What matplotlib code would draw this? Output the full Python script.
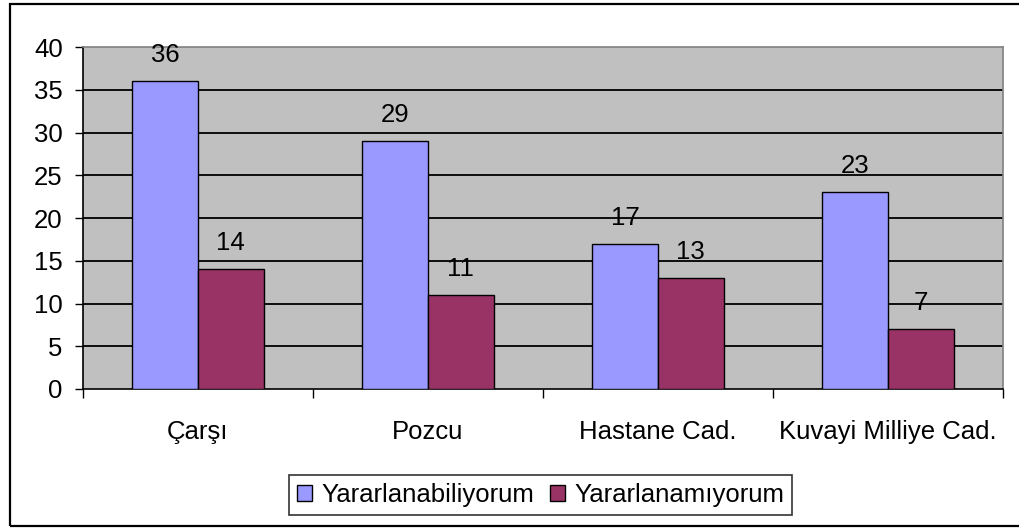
import matplotlib
matplotlib.use("Agg")
import matplotlib.pyplot as plt
from matplotlib.patches import Patch, Rectangle
import numpy as np

plt.rcParams['font.family'] = ['Liberation Sans', 'DejaVu Sans']

categories = ["Çarşı", "Pozcu", "Hastane Cad.", "Kuvayi Milliye Cad."]
series_names = ["Yararlanabiliyorum", "Yararlanamıyorum"]
yararlanabiliyorum = [36, 29, 17, 23]
yararlanamiyorum = [14, 11, 13, 7]
y_ticks = [0, 5, 10, 15, 20, 25, 30, 35, 40]

colors = ["#9999FF", "#993366"]
FS = 18.5

W, H = 1019, 528
fig = plt.figure(figsize=(W / 100, H / 100), dpi=100)
fig.patch.set_facecolor("white")

# outer chart border
fig.add_artist(Rectangle((10 / W, 2 / H), 1.2, 522 / H, transform=fig.transFigure,
                         fill=False, edgecolor="black", linewidth=1.6))

ax = fig.add_axes([83 / W, (H - 389) / H, 920 / W, 342 / H])
ax.set_facecolor("#C0C0C0")

n = len(categories)
x = np.arange(n)
bw = 1 / 3.5
for i, (vals, col) in enumerate(zip([yararlanabiliyorum, yararlanamiyorum], colors)):
    offs = (i - 0.5) * bw
    bars = ax.bar(x + offs, vals, width=bw, color=col, edgecolor="black",
                  linewidth=1.0, zorder=3, label=series_names[i])
    for b, v in zip(bars, vals):
        ax.annotate(str(v), (b.get_x() + b.get_width() / 2, v),
                    xytext=(0, 13.7), textcoords="offset points",
                    ha="center", va="baseline", fontsize=FS, zorder=4)

ax.set_xlim(-0.5, n - 0.5)
ax.set_ylim(0, 40)
ax.set_yticks(y_ticks)
ax.set_yticklabels([str(t) for t in y_ticks], fontsize=FS)
for t in y_ticks[1:-1]:
    ax.axhline(t, color="black", linewidth=1.3, zorder=1)

ax.set_xticks(x)
ax.set_xticklabels(categories, fontsize=FS)
ax.set_xticks(np.arange(-0.5, n, 1.0), minor=True)
ax.tick_params(axis="x", which="major", length=0, pad=22)
ax.tick_params(axis="x", which="minor", length=6.5, width=1.0, direction="out")
ax.tick_params(axis="y", length=6, width=1.0, direction="out", pad=8.6)

for s in ["left", "bottom"]:
    ax.spines[s].set_color("black")
    ax.spines[s].set_linewidth(1.2)
for s in ["top", "right"]:
    ax.spines[s].set_color("#808080")
    ax.spines[s].set_linewidth(1.2)

handles = [Patch(facecolor=c, edgecolor="black", linewidth=1.0) for c in colors]
leg = fig.legend(handles, series_names, loc="center", bbox_to_anchor=(540.5 / W, (H - 495) / H),
                 ncol=2, fontsize=FS, frameon=True, fancybox=False, edgecolor="black",
                 handlelength=0.6, handleheight=0.6, handletextpad=0.35,
                 columnspacing=0.6, borderpad=0.3, borderaxespad=0)
leg.get_frame().set_linewidth(1.2)

fig.savefig("out.png", dpi=100)
